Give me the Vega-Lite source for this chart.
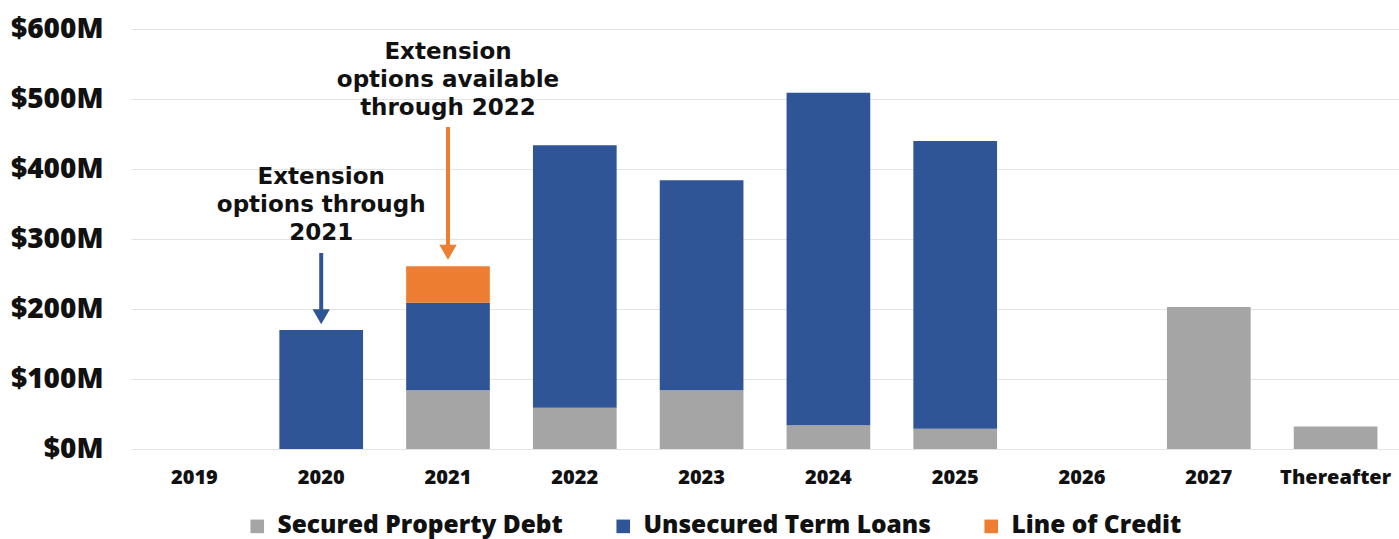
{
  "$schema": "https://vega.github.io/schema/vega-lite/v6.json",
  "width": 1268,
  "height": 420,
  "autosize": {"type": "none"},
  "padding": {"left": 131, "top": 29, "right": 0, "bottom": 90},
  "background": "white",
  "config": {"view": {"stroke": null}, "font": "Open Sans"},
  "datasets": {
    "debt": [
      {"year": "2020", "type": "Unsecured Term Loans", "k": 2, "value": 170},
      {"year": "2021", "type": "Secured Property Debt", "k": 1, "value": 84},
      {"year": "2021", "type": "Unsecured Term Loans", "k": 2, "value": 125},
      {"year": "2021", "type": "Line of Credit", "k": 3, "value": 52},
      {"year": "2022", "type": "Secured Property Debt", "k": 1, "value": 59},
      {"year": "2022", "type": "Unsecured Term Loans", "k": 2, "value": 375},
      {"year": "2023", "type": "Secured Property Debt", "k": 1, "value": 84},
      {"year": "2023", "type": "Unsecured Term Loans", "k": 2, "value": 300},
      {"year": "2024", "type": "Secured Property Debt", "k": 1, "value": 34},
      {"year": "2024", "type": "Unsecured Term Loans", "k": 2, "value": 475},
      {"year": "2025", "type": "Secured Property Debt", "k": 1, "value": 29},
      {"year": "2025", "type": "Unsecured Term Loans", "k": 2, "value": 411},
      {"year": "2027", "type": "Secured Property Debt", "k": 1, "value": 203},
      {"year": "Thereafter", "type": "Secured Property Debt", "k": 1, "value": 32}
    ],
    "notes": [
      {"year": "2020", "type": "Unsecured Term Loans", "text": "Extension\noptions through\n2021", "ytext": 388, "ystart": 280, "yend": 192, "ytip": 189},
      {"year": "2021", "type": "Line of Credit", "text": "Extension\noptions available\nthrough 2022", "ytext": 567, "ystart": 460, "yend": 284, "ytip": 281}
    ]
  },
  "layer": [
    {
      "data": {"name": "debt"},
      "mark": {"type": "bar"},
      "encoding": {
        "x": {
          "field": "year", "type": "nominal", "sort": null,
          "scale": {"domain": ["2019", "2020", "2021", "2022", "2023", "2024", "2025", "2026", "2027", "Thereafter"], "paddingInner": 0.34, "paddingOuter": 0.17},
          "axis": {"title": null, "domain": false, "ticks": false, "grid": false, "labelAngle": 0, "labelFont": "Open Sans", "labelFontWeight": 800, "labelFontSize": 20, "labelColor": "#111111", "labelPadding": 28, "labelBaseline": "middle"}
        },
        "y": {
          "field": "value", "type": "quantitative", "stack": "zero",
          "scale": {"domain": [0, 600]},
          "axis": {"title": null, "values": [0, 100, 200, 300, 400, 500, 600], "labelExpr": "'$' + datum.value + 'M'", "domain": false, "ticks": false, "grid": true, "gridColor": "#e3e3e3", "gridWidth": 1.2, "labelFont": "Open Sans", "labelFontWeight": 800, "labelFontSize": 28, "labelColor": "#111111", "labelPadding": 28}
        },
        "color": {
          "field": "type", "type": "nominal",
          "scale": {"domain": ["Secured Property Debt", "Unsecured Term Loans", "Line of Credit"], "range": ["#A5A5A5", "#2F5597", "#ED7D31"]},
          "legend": {"orient": "none", "legendX": 114, "legendY": 485, "direction": "horizontal", "title": null, "symbolType": "square", "symbolSize": 185, "symbolStrokeWidth": 0, "symbolOpacity": 1, "labelFont": "Open Sans", "labelFontSize": 24.5, "labelFontWeight": 800, "labelColor": "#111111", "labelOffset": 8, "columnPadding": 48, "labelLimit": 0, "padding": 0}
        },
        "order": {"field": "k", "type": "quantitative"}
      }
    },
    {
      "data": {"name": "notes"},
      "mark": {"type": "rule", "strokeWidth": 4},
      "encoding": {
        "x": {"field": "year", "type": "nominal", "sort": null},
        "y": {"field": "ystart", "type": "quantitative"},
        "y2": {"field": "yend"},
        "color": {"field": "type", "type": "nominal"}
      }
    },
    {
      "data": {"name": "notes"},
      "mark": {"type": "point", "shape": "triangle-down", "filled": true, "size": 300, "opacity": 1},
      "encoding": {
        "x": {"field": "year", "type": "nominal", "sort": null},
        "y": {"field": "ytip", "type": "quantitative"},
        "color": {"field": "type", "type": "nominal"}
      }
    },
    {
      "data": {"name": "notes"},
      "mark": {"type": "text", "font": "DejaVu Sans", "fontWeight": "bold", "fontSize": 23, "lineBreak": "\n", "lineHeight": 28, "align": "center", "baseline": "middle", "color": "#111111"},
      "encoding": {
        "x": {"field": "year", "type": "nominal", "sort": null},
        "y": {"field": "ytext", "type": "quantitative"},
        "text": {"field": "text"}
      }
    }
  ]
}
